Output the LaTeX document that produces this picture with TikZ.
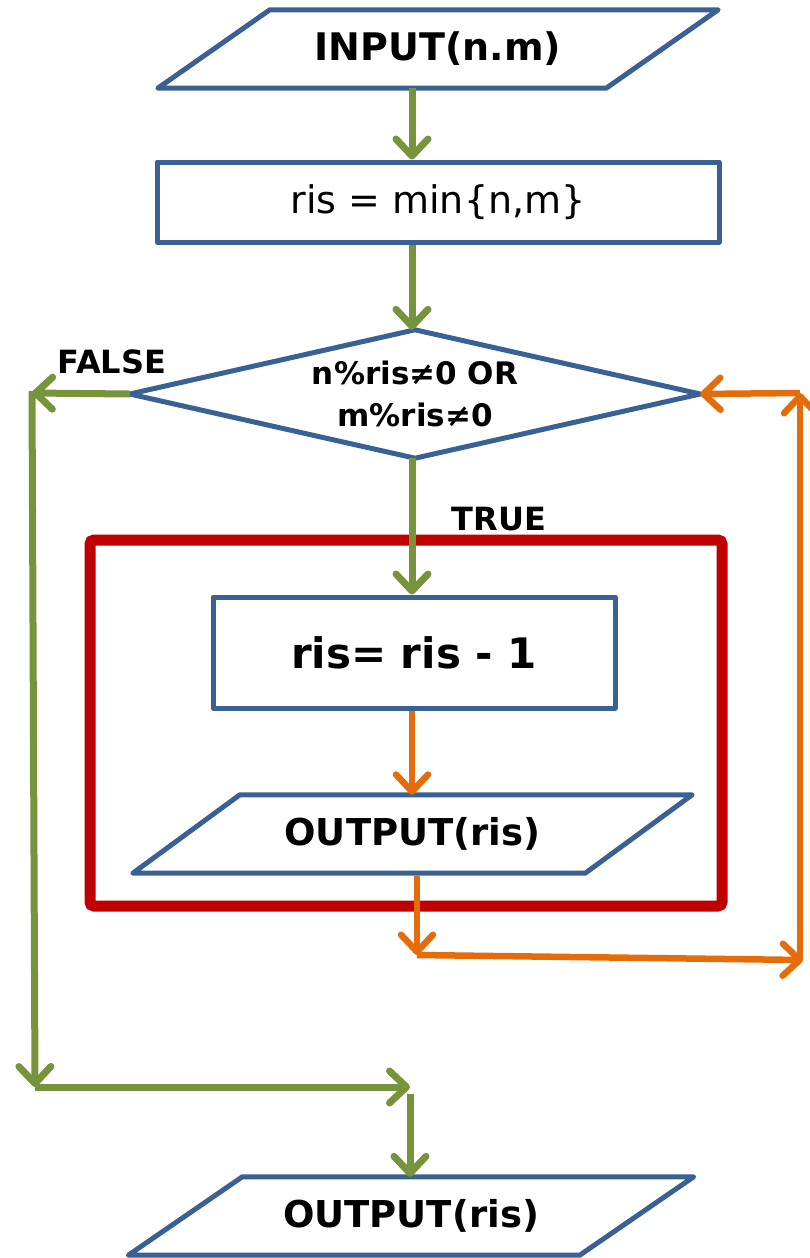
\documentclass[tikz,border=0pt]{standalone}
\usepackage{fontspec}
\setmainfont{DejaVu Sans}
\usetikzlibrary{arrows.meta,shapes.geometric}

\definecolor{flowblue}{HTML}{3A6194}
\definecolor{flowgreen}{HTML}{77933C}
\definecolor{floworange}{HTML}{E46C0A}
\definecolor{flowred}{HTML}{C00000}

\tikzset{
  x=1pt, y=-1pt,
  border/.style={draw=flowblue, line width=5pt, line join=round},
  boxtext/.style={inner sep=0pt, align=center, font=\bfseries\fontsize{38}{44}\selectfont},
  procbox/.style={border, rectangle, inner sep=0pt},
  iobody/.style={rectangle, inner sep=0pt, minimum height=78pt},
  testbody/.style={rectangle, inner sep=0pt, minimum width=570pt, minimum height=128pt,
    align=center, font=\bfseries\fontsize{31}{42}\selectfont},
  tag/.style={inner sep=0pt, font=\bfseries\fontsize{32}{36}\selectfont},
  tip/.style={-{Straight Barb[length=17pt, width=32pt, round]}},
  garrow/.style={tip, draw=flowgreen, line width=7pt},
  oarrow/.style={tip, draw=floworange, line width=6.5pt},
  loopframe/.style={draw=flowred, line width=11pt, rounded corners=4pt},
}

\begin{document}
\begin{tikzpicture}
\useasboundingbox (0,0) rectangle (810,1258);

% main vertical axis of the chart
\coordinate (axis) at (412,0);

% input
\node[iobody, minimum width=448pt, boxtext] (in) at (438,49) {INPUT(n.m)};
\draw[border] ([xshift=56pt]in.north west) -- ([xshift=56pt]in.north east)
  -- ([xshift=-56pt]in.south east) -- ([xshift=-56pt]in.south west) -- cycle;

% initialisation
\node[procbox, minimum width=562pt, minimum height=80pt,
      font=\fontsize{38}{44}\selectfont] (init) at (438,202) {ris = min\{n,m\}};

% loop test
\node[testbody] (cond) at (415,394) {n\%ris≠0 OR\\m\%ris≠0};
\draw[border] (cond.north) -- (cond.east) -- (cond.south) -- (cond.west) -- cycle;
\node[tag] (false) at (112,362) {FALSE};
\node[tag] (true) at (499,519) {TRUE};

% loop body frame
\draw[loopframe] (90,540) rectangle (722,906);

% decrement
\node[procbox, minimum width=402pt, minimum height=111pt,
      font=\bfseries\fontsize{42}{48}\selectfont] (dec) at (414,652.5) {ris= ris - 1};

% output inside the loop
\node[iobody, minimum width=452pt, boxtext, font=\bfseries\fontsize{37}{44}\selectfont] (outA) at (412.5,834) {OUTPUT(ris)};
\draw[border] ([xshift=53.5pt]outA.north west) -- ([xshift=53.5pt]outA.north east)
  -- ([xshift=-53.5pt]outA.south east) -- ([xshift=-53.5pt]outA.south west) -- cycle;

% final output
\node[iobody, minimum width=451pt, boxtext, font=\bfseries\fontsize{37}{44}\selectfont] (outB) at (411,1216) {OUTPUT(ris)};
\draw[border] ([xshift=57pt]outB.north west) -- ([xshift=57pt]outB.north east)
  -- ([xshift=-57pt]outB.south east) -- ([xshift=-57pt]outB.south west) -- cycle;

% corner points of the routed connectors
\coordinate (fTop) at (32,393);
\coordinate (fBot) at (35,1087);
\coordinate (join) at (410,1087);
\coordinate (jDown) at (410,1094);
\coordinate (oOut) at (417,876);
\coordinate (oLow) at (417,955);
\coordinate (oRight) at (803,960);
\coordinate (oUp) at (800,393);

% main flow
\draw[garrow] (in.south -| axis) -- (init.north -| axis);
\draw[garrow] (init.south -| axis) -- (cond.north -| axis);
\draw[garrow] (cond.south -| axis) -- (dec.north -| axis);
\draw[oarrow] (dec.south -| axis) -- (outA.north -| axis);

% back to the test
\draw[oarrow] (oOut) -- (oLow);
\draw[oarrow] (oLow) -- (oRight);
\draw[oarrow] (oRight -| oUp) -- (oUp);
\draw[oarrow] (oUp) -- (cond.east);

% exit branch
\draw[garrow] (cond.west) -- (fTop);
\draw[garrow] ([yshift=2pt]fTop) -- (fBot);
\draw[garrow] (fBot) -- (join);
\draw[garrow] (jDown) -- (outB.north -| jDown);
\end{tikzpicture}
\end{document}
